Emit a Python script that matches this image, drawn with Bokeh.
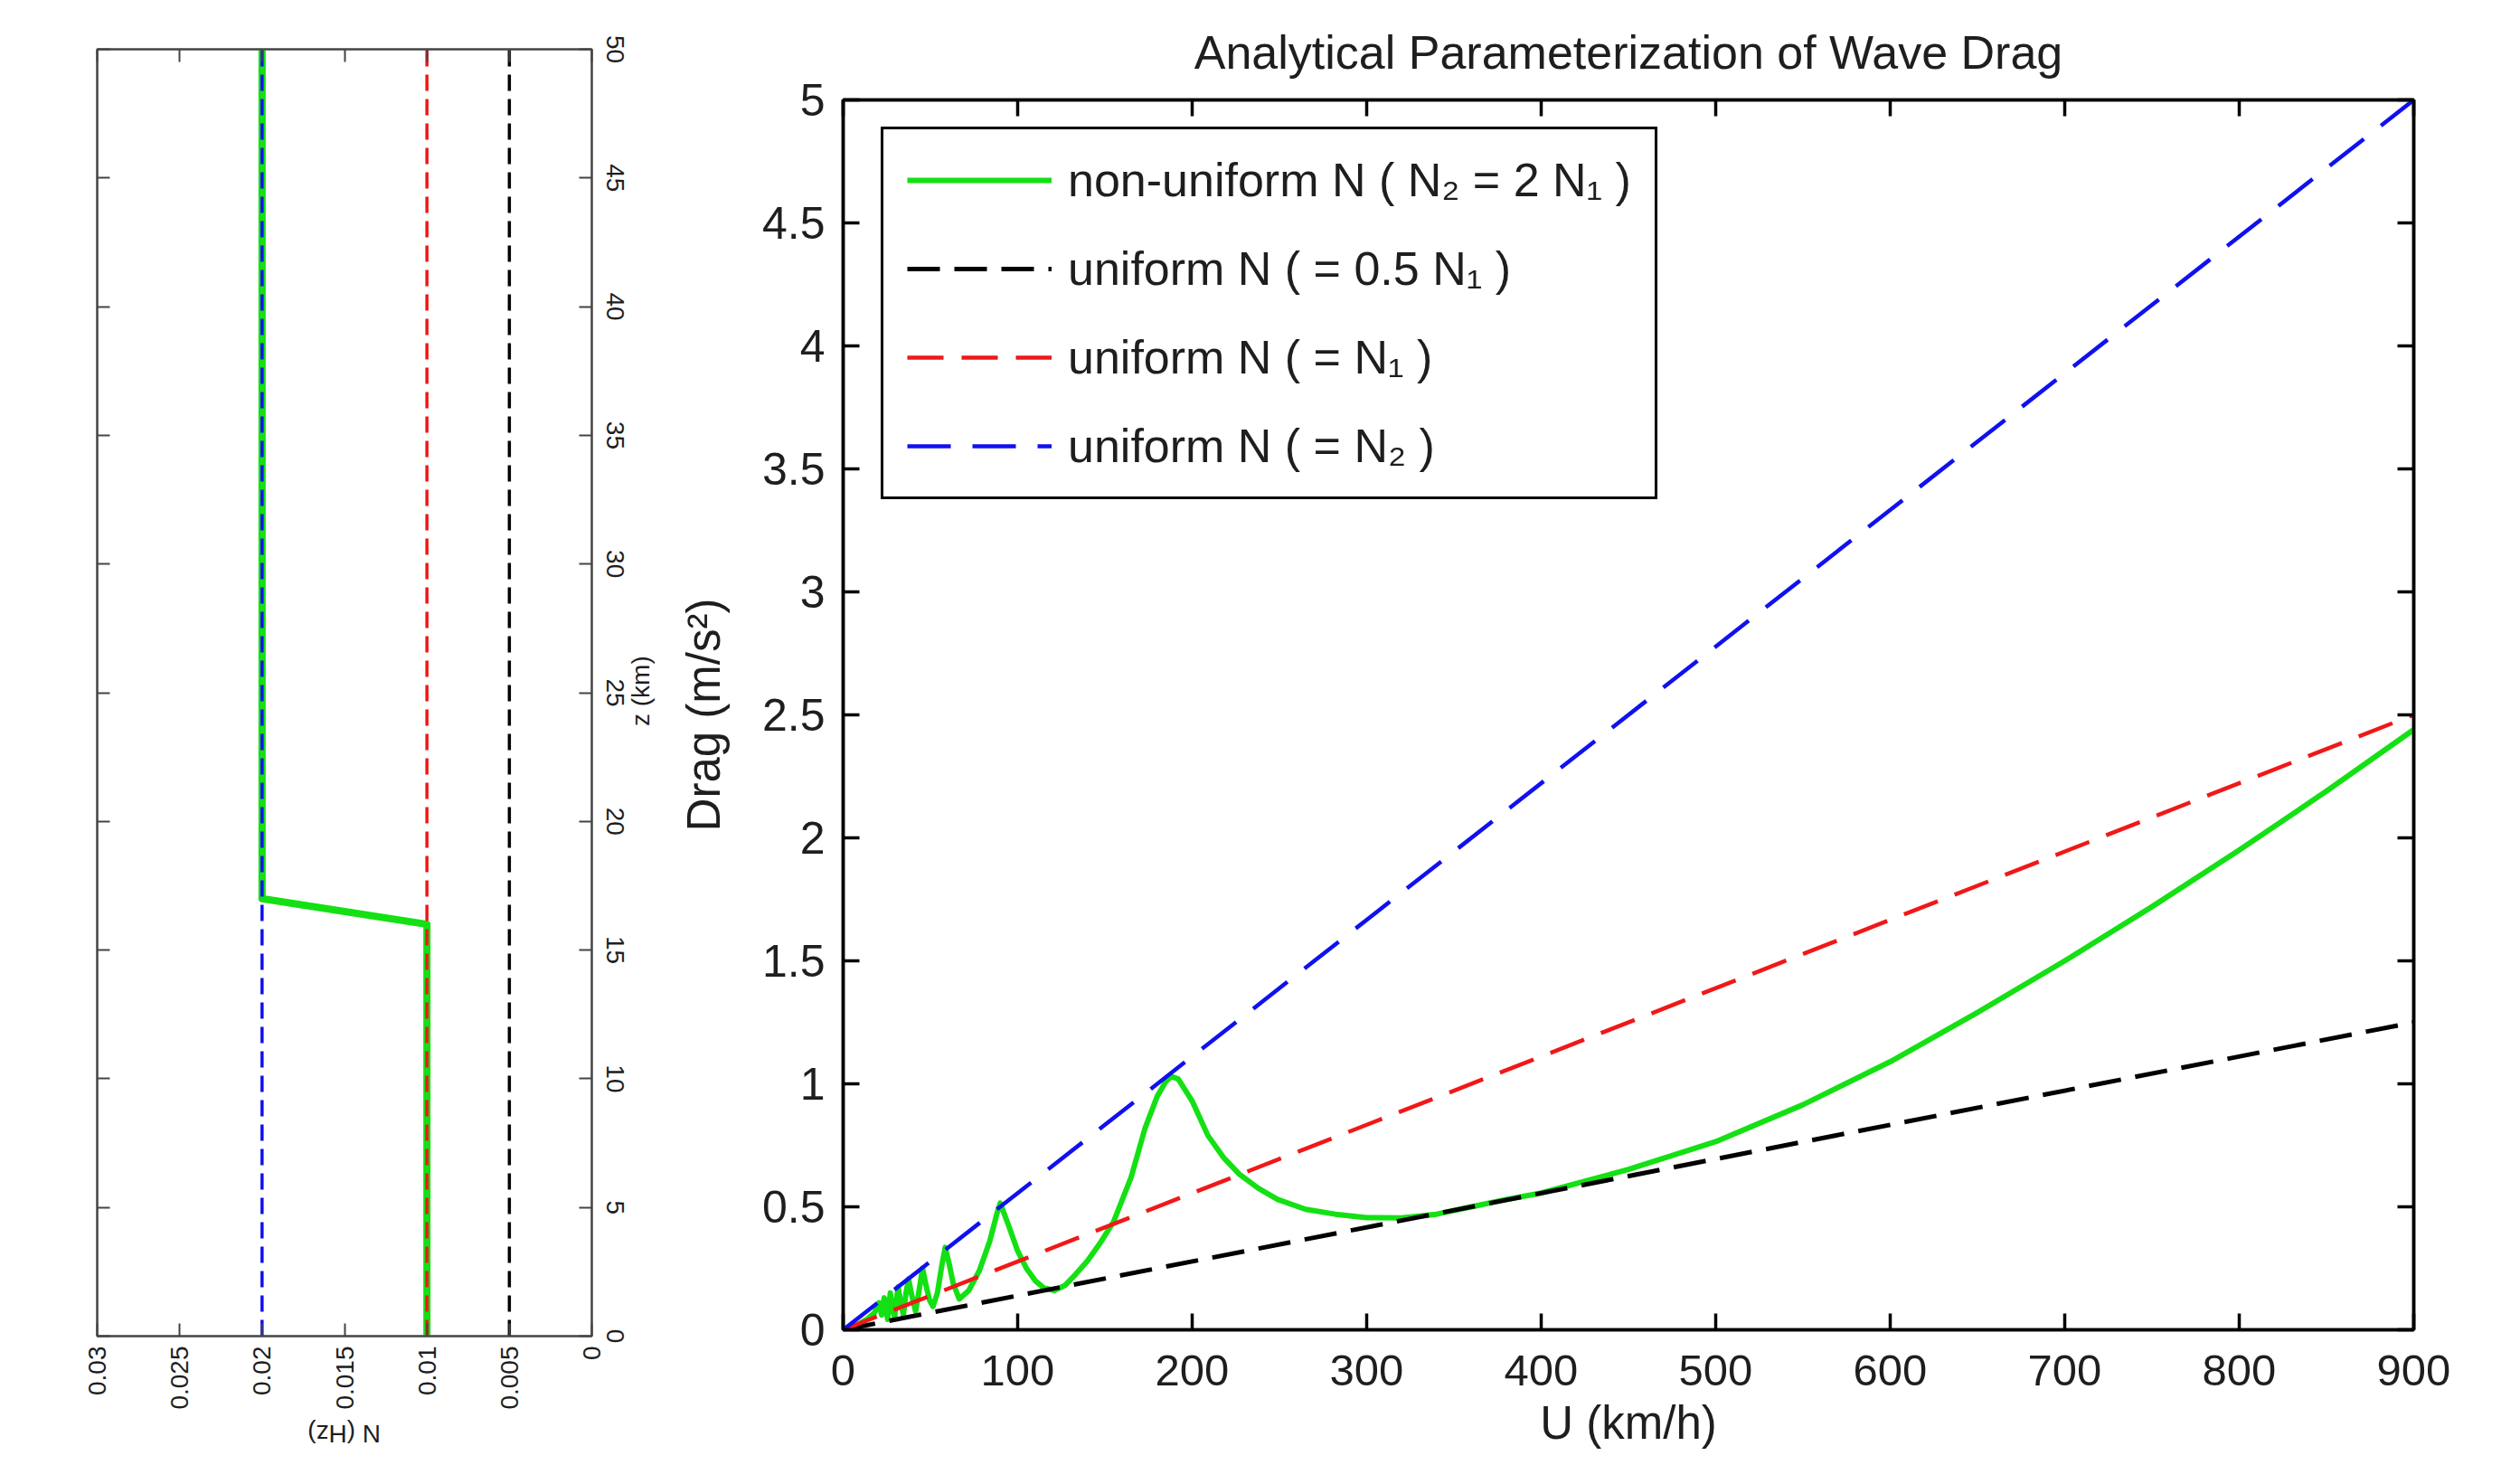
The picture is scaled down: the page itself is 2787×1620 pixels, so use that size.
from math import pi
from bokeh.plotting import figure
from bokeh.models import (Range1d, LinearAxis, FixedTicker, Legend, LegendItem)
from bokeh.layouts import row
from bokeh.embed import file_html
from bokeh.resources import INLINE

FONT = "Liberation Sans"

# ---------------- left panel: N(z) profiles ----------------
z_profile = [0, 50]
N_black = [0.005, 0.005]      # uniform N = 0.5 N1
N_red = [0.01, 0.01]          # uniform N = N1
N_blue = [0.02, 0.02]         # uniform N = N2
z_green = [0, 16, 17, 50]     # non-uniform N
N_green = [0.01, 0.01, 0.02, 0.02]

N_ticks = [0, 0.005, 0.01, 0.015, 0.02, 0.025, 0.03]
N_tick_labels = ["0", "0.005", "0.01", "0.015", "0.02", "0.025", "0.03"]
z_ticks = [0, 5, 10, 15, 20, 25, 30, 35, 40, 45, 50]
N_title = "N (Hz)"
N_title_anchor = 0.01724      # left end of the upside-down N title
z_title = "z (km)"
z_title_anchor = 23.7         # lower end of the vertical z title

# ---------------- right panel: drag vs U ----------------
U_lin = [0, 900]
D_half = [0, 1.25]
D_N1 = [0, 2.5]
D_N2 = [0, 5.0]

U_green = [0, 8, 14, 18, 20.5, 22, 23.5, 25.5, 26.3, 27,
           28.2, 29.5, 30.5, 31.5, 33, 34.5, 36, 37.5, 39, 41.5,
           43.5, 45.5, 47.5, 49.5, 51.5, 54, 56.5, 58.5, 61, 63,
           66.5, 72, 78, 84, 88, 90, 95, 100, 105, 110,
           115, 121, 127, 133, 140, 147, 155, 165, 173, 180,
           185, 188, 192, 200, 209, 218, 227, 238, 249, 265,
           282, 300, 320, 340, 360, 380, 400, 450, 500, 550,
           600, 650, 700, 750, 800, 850, 900]
D_green = [0, 0.02, 0.045, 0.07, 0.11, 0.06, 0.13, 0.042, 0.10, 0.15,
           0.09, 0.05, 0.12, 0.175, 0.11, 0.06, 0.15, 0.207, 0.15, 0.075,
           0.16, 0.25, 0.18, 0.12, 0.095, 0.15, 0.26, 0.335, 0.26, 0.19,
           0.125, 0.16, 0.24, 0.36, 0.47, 0.515, 0.42, 0.32, 0.25, 0.2,
           0.17, 0.16, 0.18, 0.224, 0.28, 0.35, 0.44, 0.62, 0.82, 0.95,
           1.01, 1.03, 1.02, 0.93, 0.79, 0.70, 0.633, 0.575, 0.53, 0.49,
           0.47, 0.456, 0.455, 0.47, 0.50, 0.53, 0.556, 0.652, 0.765, 0.915,
           1.09, 1.29, 1.50, 1.72, 1.95, 2.19, 2.44]

U_ticks = [0, 100, 200, 300, 400, 500, 600, 700, 800, 900]
D_ticks = [0, 0.5, 1, 1.5, 2, 2.5, 3, 3.5, 4, 4.5, 5]
D_tick_labels = ["0", "0.5", "1", "1.5", "2", "2.5", "3", "3.5", "4", "4.5", "5"]

legend_labels = ["non-uniform N ( N\u2082 = 2 N\u2081 )",
                 "uniform N ( = 0.5 N\u2081 )",
                 "uniform N ( = N\u2081 )",
                 "uniform N ( = N\u2082 )"]

GREEN = "#14e014"
RED = "#f01818"
BLUE = "#1010f0"
BLACK = "#000000"
TXT = "#1e1e1e"


def make_axis(ticks, labels_on, font_size, line_color, line_width, tick_len, standoff,
              overrides=None, orientation=None):
    ax = LinearAxis(ticker=FixedTicker(ticks=ticks))
    ax.axis_line_color = line_color
    ax.axis_line_width = line_width
    ax.major_tick_line_color = line_color
    ax.major_tick_line_width = line_width
    ax.major_tick_in = tick_len
    ax.major_tick_out = 0
    ax.minor_tick_line_color = None
    if labels_on:
        ax.major_label_text_font = FONT
        ax.major_label_text_font_size = font_size
        ax.major_label_text_color = TXT
        ax.major_label_standoff = standoff
        if overrides:
            ax.major_label_overrides = overrides
        if orientation is not None:
            ax.major_label_orientation = orientation
    else:
        ax.major_label_text_font_size = "0px"
        ax.major_label_text_color = None
        ax.major_label_standoff = 0
    return ax


def title_axis(anchor, text, standoff, orientation):
    # bare axis (no rule, no tick marks) whose single tick label is an axis title
    ax = make_axis([anchor], True, "28px", "#444444", 2, 0, standoff,
                   overrides={anchor: text}, orientation=orientation)
    ax.axis_line_color = None
    ax.major_tick_line_color = None
    return ax


def set_label(ax, text, size, standoff):
    ax.axis_label = text
    ax.axis_label_text_font = FONT
    ax.axis_label_text_font_size = size
    ax.axis_label_text_font_style = "normal"
    ax.axis_label_text_color = TXT
    ax.axis_label_standoff = standoff


# ================= left figure =================
pl = figure(width=744, height=1620, x_range=Range1d(0.03, 0), y_range=Range1d(0, 50),
            output_backend="svg", toolbar_location=None,
            x_axis_location=None, y_axis_location=None,
            min_border_left=107, min_border_right=90, min_border_top=54, min_border_bottom=143)
pl.frame_align = False
pl.grid.visible = False
pl.outline_line_color = "#444444"
pl.outline_line_width = 2
pl.background_fill_color = "white"
pl.border_fill_color = "white"

N_over = {t: s for t, s in zip(N_ticks, N_tick_labels)}
xn = make_axis(N_ticks, True, "28px", "#444444", 2, 14, 11,
               overrides=N_over, orientation=pi / 2)
pl.add_layout(xn, "below")
pl.add_layout(title_axis(N_title_anchor, N_title, 24, pi), "below")

pl.add_layout(make_axis(N_ticks, False, "28px", "#444444", 2, 14, 0), "above")
pl.add_layout(make_axis(z_ticks, False, "28px", "#444444", 2, 14, 0), "left")
zr = make_axis(z_ticks, True, "28px", "#444444", 2, 14, 16, orientation="vertical")
pl.add_layout(zr, "right")
pl.add_layout(title_axis(z_title_anchor, z_title, 16, pi / 2), "right")

pl.line(N_green, z_green, line_color=GREEN, line_width=8, line_join="round")
pl.line(N_black, z_profile, line_color=BLACK, line_width=3.5, line_dash="18 9")
pl.line(N_red, z_profile, line_color=RED, line_width=3.5, line_dash="18 9")
pl.line(N_blue, z_profile, line_color=BLUE, line_width=3.5, line_dash="18 9")

# ================= main figure =================
pm = figure(width=1985, height=1608, x_range=Range1d(0, 900), y_range=Range1d(0, 5),
            output_backend="svg", toolbar_location=None,
            x_axis_location=None, y_axis_location=None,
            min_border_left=188, min_border_right=60, min_border_top=110, min_border_bottom=138)
pm.frame_align = False
pm.grid.visible = False
pm.outline_line_color = "black"
pm.outline_line_width = 3.5
pm.background_fill_color = "white"
pm.border_fill_color = "white"

pm.title.text = "Analytical Parameterization of Wave Drag"
pm.title.align = "center"
pm.title.text_font = FONT
pm.title.text_font_size = "52px"
pm.title.text_font_style = "normal"
pm.title.text_color = TXT
pm.title.standoff = 48

D_over = {t: s for t, s in zip(D_ticks, D_tick_labels)}
xb = make_axis(U_ticks, True, "49px", "black", 3.5, 18, 28)
set_label(xb, "U (km/h)", "51px", 10)
pm.add_layout(xb, "below")

yl = make_axis(D_ticks, True, "50px", "black", 3.5, 18, 20, overrides=D_over)
set_label(yl, "Drag (m/s\u00b2)", "51px", 33)
pm.add_layout(yl, "left")

pm.add_layout(make_axis(U_ticks, False, "48px", "black", 3.5, 18, 0), "above")
pm.add_layout(make_axis(D_ticks, False, "48px", "black", 3.5, 18, 0), "right")

r_green = pm.line(U_green, D_green, line_color=GREEN, line_width=6, line_join="round")
r_black = pm.line(U_lin, D_half, line_color=BLACK, line_width=5, line_dash="36 16")
r_red = pm.line(U_lin, D_N1, line_color=RED, line_width=4.5, line_dash="40 20")
r_blue = pm.line(U_lin, D_N2, line_color=BLUE, line_width=4.5, line_dash="48 24")

legend = Legend(items=[LegendItem(label=legend_labels[0], renderers=[r_green]),
                       LegendItem(label=legend_labels[1], renderers=[r_black]),
                       LegendItem(label=legend_labels[2], renderers=[r_red]),
                       LegendItem(label=legend_labels[3], renderers=[r_blue])],
                location=(42, 918))
legend.label_text_font = FONT
legend.label_text_font_size = "52px"
legend.label_text_color = TXT
legend.glyph_width = 160
legend.glyph_height = 60
legend.label_height = 60
legend.label_standoff = 18
legend.spacing = 38
legend.padding = 26
legend.margin = 0
legend.border_line_color = "black"
legend.border_line_width = 3
legend.border_line_alpha = 1.0
legend.background_fill_color = "white"
legend.background_fill_alpha = 1.0
pm.add_layout(legend)

layout = row(pl, pm)
open("out.html", "w").write(file_html(layout, INLINE))
